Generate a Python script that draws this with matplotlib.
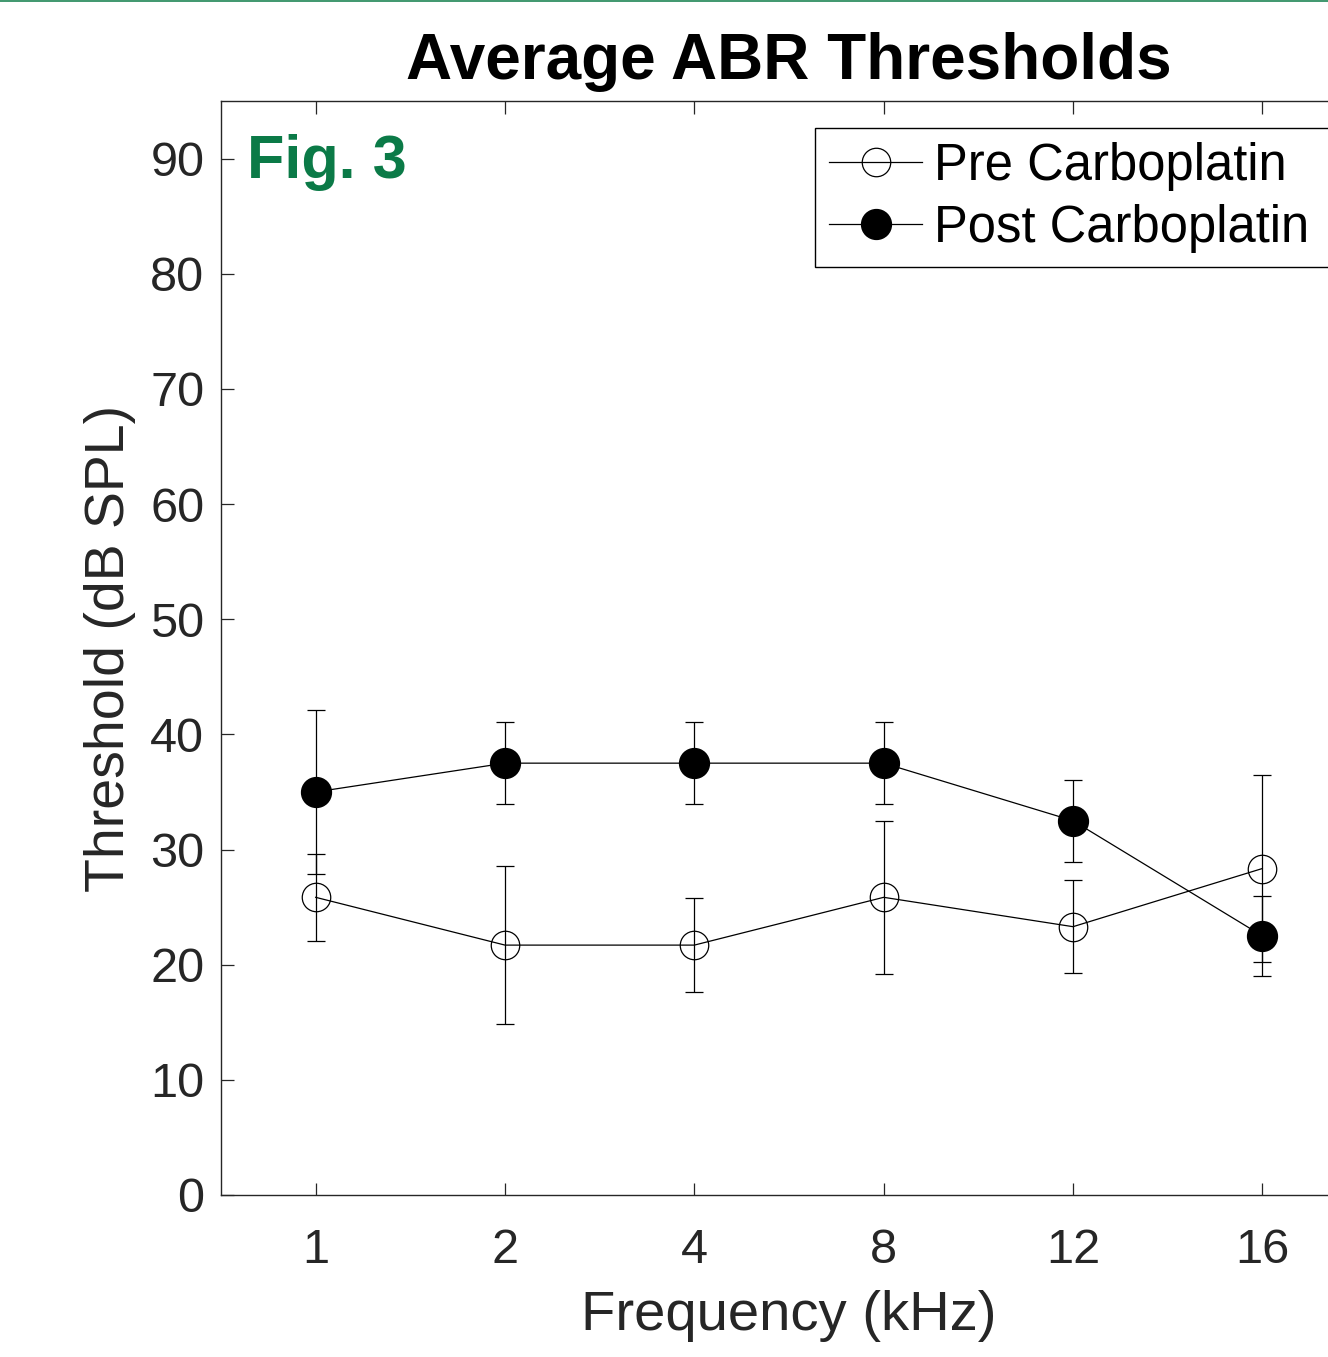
import numpy as np
import matplotlib
matplotlib.use("Agg")
import matplotlib.pyplot as plt
from matplotlib.lines import Line2D

plt.rcParams['font.family'] = ['Liberation Sans', 'DejaVu Sans']

# Datos
frecuencias = ['1', '2', '4', '8', '12', '16']
pre_media = [25.85, 21.7, 21.7, 25.85, 23.3, 28.35]
pre_error = [3.75, 6.85, 4.05, 6.65, 4.05, 8.15]
post_media = [35.0, 37.5, 37.5, 37.5, 32.5, 22.5]
post_error = [7.1, 3.55, 3.55, 3.55, 3.55, 3.5]

gris = '#262626'
verde = '#0B7A47'

fig = plt.figure(figsize=(13.28, 13.57), dpi=100)
ax = fig.add_axes([221/1328, 1 - 1195/1357, (1357 - 221)/1328, (1195 - 101)/1357])

x = np.arange(1, len(frecuencias) + 1)

# Pre carboplatino (circulos vacios)
pre = ax.errorbar(x, pre_media, yerr=pre_error, color='black', linewidth=0.9,
                  elinewidth=0.9, capsize=6.7, capthick=0.9,
                  marker='o', markersize=20.5, markerfacecolor='none',
                  markeredgecolor='black', markeredgewidth=0.9,
                  label='Pre Carboplatin')
# Post carboplatino (circulos llenos)
post = ax.errorbar(x, post_media, yerr=post_error, color='black', linewidth=0.9,
                   elinewidth=0.9, capsize=6.7, capthick=0.9,
                   marker='o', markersize=21.5, markerfacecolor='black',
                   markeredgecolor='black', label='Post Carboplatin')

ax.set_xlim(0.5, 6.5)
ax.set_ylim(0, 95)
ax.set_xticks(x)
ax.set_xticklabels(frecuencias)
ax.set_yticks(np.arange(0, 91, 10))

for s in ax.spines.values():
    s.set_color(gris)
    s.set_linewidth(1.0)
ax.tick_params(direction='in', length=9, width=0.9, color=gris,
               labelcolor=gris, labelsize=35, top=True, right=True)
ax.tick_params(axis='x', pad=24)
ax.tick_params(axis='y', pad=12)

ax.set_xlabel('Frequency (kHz)', fontsize=40.5, color=gris, labelpad=12)
ax.set_ylabel('Threshold (dB SPL)', fontsize=40, color=gris, labelpad=10)
ax.set_title('Average ABR Thresholds', fontsize=46, fontweight='bold',
             color='black', pad=16)

ax.text(247/1328, 1 - 178/1357, 'Fig. 3', transform=fig.transFigure,
        fontsize=44, fontweight='bold', color=verde, ha='left', va='baseline')

# leyenda solo con linea y marcador, sin barras de error
# (el marco sigue hasta el borde derecho de los ejes, fuera de la imagen)
leg = ax.legend(handles=[pre[0], post[0]], labels=['Pre Carboplatin', 'Post Carboplatin'],
                loc='upper left',
                bbox_to_anchor=(815/1328, 1 - 128/1357, (1357 - 815)/1328, 0.0),
                bbox_transform=fig.transFigure, borderaxespad=0, mode='expand',
                fontsize=36.5, handlelength=1.85, handletextpad=0.22,
                borderpad=0.27, labelspacing=0.26, fancybox=False,
                framealpha=1, edgecolor='black')
leg.get_frame().set_linewidth(1.0)
for t in leg.get_texts():
    t.set_color('black')

# linea verde del borde superior
fig.add_artist(Line2D([0, 1], [1 - 0.7/1357, 1 - 0.7/1357],
                      transform=fig.transFigure, color=verde, linewidth=1.1))

fig.savefig('out.png', dpi=100)
